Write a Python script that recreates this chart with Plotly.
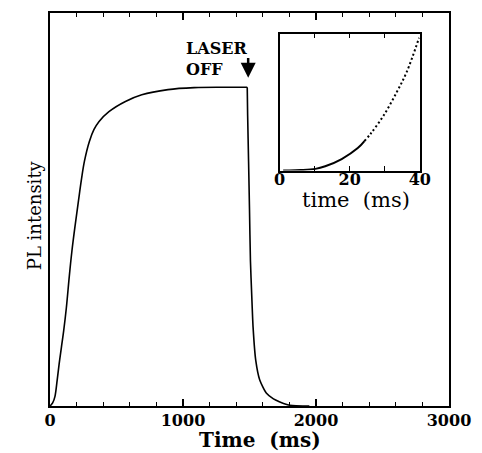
import plotly.graph_objects as go

# ---- data ----
rise_t = [0, 20, 37, 54, 69, 86, 103, 123, 145, 165, 190, 214, 237, 259, 296, 330, 369, 443, 567, 690, 887, 1084, 1300, 1483]
rise_y = [0, 0.008, 0.024, 0.066, 0.108, 0.150, 0.192, 0.250, 0.330, 0.395, 0.462, 0.522, 0.578, 0.623,
          0.673, 0.703, 0.724, 0.749, 0.775, 0.792, 0.805, 0.810, 0.811, 0.811]
decay_t = [1483, 1486, 1493, 1500, 1507, 1517, 1527, 1547, 1577, 1626, 1680, 1724, 1780, 1823, 1900, 1950]
decay_y = [0.811, 0.74, 0.623, 0.50, 0.370, 0.28, 0.200, 0.116, 0.066, 0.033, 0.018, 0.011, 0.004, 0.001, 0, 0]

inset_t_solid = [1, 2.7, 6, 10.2, 13, 17.7, 22.3, 24.2]
inset_y_solid = [0, 0, 0.003, 0.012, 0.031, 0.084, 0.164, 0.215]
inset_t_dot = [24.2, 26.1, 29.8, 33.5, 36.3, 39.8]
inset_y_dot = [0.215, 0.273, 0.407, 0.576, 0.722, 0.97]

main_ticks = [0, 1000, 2000, 3000]
main_ticklabels = ["0", "1000", "2000", "3000"]
inset_ticks = [0, 10, 20, 30, 40]
inset_ticklabels = ["0", "", "20", "", "40"]

FONT = "DejaVu Serif"

fig = go.Figure()
line = dict(color="black", width=1.6, shape="spline", smoothing=1.0)
fig.add_trace(go.Scatter(x=rise_t, y=rise_y, mode="lines", line=line, showlegend=False))
fig.add_trace(go.Scatter(x=decay_t, y=decay_y, mode="lines", line=dict(color="black", width=1.6, shape="spline", smoothing=0.6), showlegend=False))
fig.add_trace(go.Scatter(x=inset_t_solid, y=inset_y_solid, mode="lines", xaxis="x2", yaxis="y2",
                         line=dict(color="black", width=2, shape="spline"), showlegend=False))
fig.add_trace(go.Scatter(x=inset_t_dot, y=inset_y_dot, mode="lines", xaxis="x2", yaxis="y2",
                         line=dict(color="black", width=2, shape="spline", dash="2px,2.5px"),
                         showlegend=False))

axis_common = dict(showgrid=False, zeroline=False, showline=True, linecolor="black", linewidth=1.5)

fig.update_layout(
    width=482, height=453,
    margin=dict(l=50, r=26, t=11, b=47),
    paper_bgcolor="white", plot_bgcolor="white",
    font=dict(family=FONT, color="black"),
    xaxis=dict(range=[0, 3000], tickvals=main_ticks, ticktext=main_ticklabels,
               ticks="inside", ticklen=7, tickwidth=1.5, tickcolor="black", mirror="ticks",
               minor=dict(dtick=200, ticks="inside", ticklen=4, tickwidth=1.2, tickcolor="black"),
               ticklabelstandoff=-1,
               tickfont=dict(family=FONT, size=16, weight="bold"), **axis_common),
    yaxis=dict(range=[0, 1], showticklabels=False, ticks="", mirror=True, **axis_common),
    xaxis2=dict(domain=[0.5756, 0.9268], anchor="y2", range=[0, 40],
                tickvals=inset_ticks, ticktext=inset_ticklabels,
                ticks="inside", ticklen=5, tickwidth=1.3, tickcolor="black", mirror="ticks",
                ticklabelstandoff=-6,
                tickfont=dict(family=FONT, size=16, weight="bold"), **axis_common),
    yaxis2=dict(domain=[0.5992, 0.9476], anchor="x2", range=[0, 1], showticklabels=False,
                ticks="", mirror=True, **axis_common),
    annotations=[
        dict(text="Time  (ms)", xref="paper", yref="paper", x=(264 - 50) / 406, y=(406 - 453) / 395,
             xanchor="center", yanchor="bottom", showarrow=False, borderpad=0,
             font=dict(family=FONT, size=20, weight="bold")),
        dict(text="PL intensity", xref="paper", yref="paper", x=(35 - 50) / 406, y=(406 - 214) / 395,
             xanchor="center", yanchor="middle", textangle=-90, showarrow=False,
             font=dict(family=FONT, size=18)),
        dict(text="time  (ms)", xref="paper", yref="paper", x=(361.5 - 50) / 406, y=(406 - 199) / 395,
             xanchor="center", yanchor="middle", showarrow=False,
             font=dict(family=FONT, size=21)),
        dict(text="LASER<br>OFF", xref="x", yref="y", x=1005, y=0.94, xanchor="left", yanchor="top",
             align="left", showarrow=False, font=dict(family=FONT, size=16, weight="bold")),
        dict(text="", xref="x", yref="y", x=1490, y=0.835, ax=1490, ay=0.889, axref="x", ayref="y",
             showarrow=True, arrowhead=2, arrowsize=1.2, arrowwidth=2.5, arrowcolor="black"),
    ],
)

fig.write_html("out.html")
